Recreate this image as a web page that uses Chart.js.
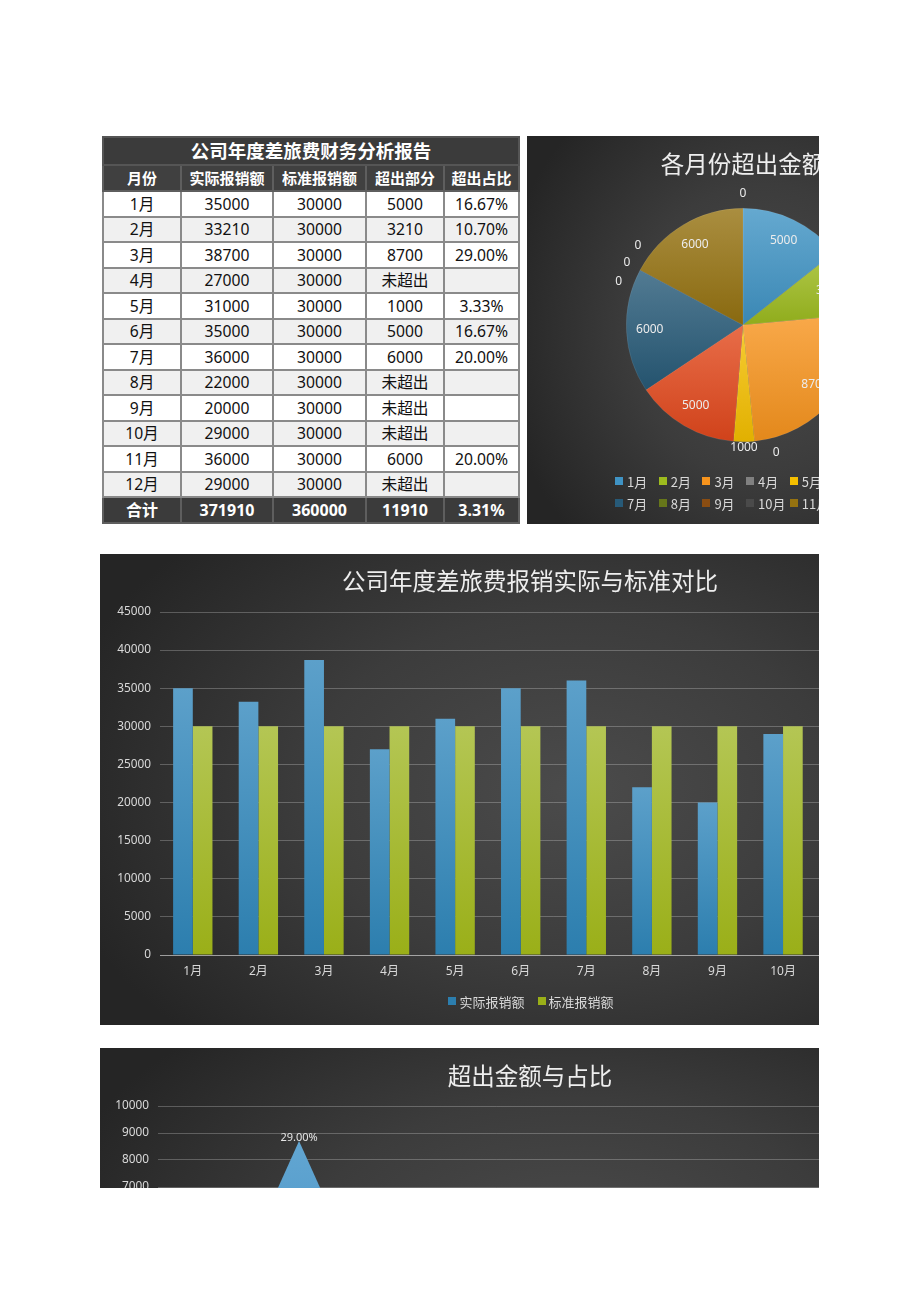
<!DOCTYPE html>
<html><head><meta charset="utf-8">
<script src="https://cdn.jsdelivr.net/npm/chart.js@4.4.0/dist/chart.umd.min.js"></script>
<style>
html,body{margin:0;padding:0;background:#fff;}
body{width:920px;height:1301px;position:relative;overflow:hidden;font-family:"Noto Sans","Noto Sans CJK SC",sans-serif;}
.panel{position:absolute;overflow:hidden;}
.inner{position:absolute;left:0;top:0;background:radial-gradient(ellipse 62% 75% at 55% 50%, #4b4b4b 0%, #3c3c3c 50%, #252525 100%);}
.ctitle{position:absolute;left:0;width:100%;text-align:center;color:#eeeeee;font-family:"Noto Sans CJK SC",sans-serif;font-size:23.5px;line-height:30px;white-space:nowrap;}
canvas{position:absolute;left:0;top:0;}
#tbl{position:absolute;left:102px;top:136px;width:416px;border-collapse:collapse;table-layout:fixed;font-family:"Noto Sans","Noto Sans CJK SC",sans-serif;}
#tbl td{border:2px solid #8a8a8a;text-align:center;padding:0;font-size:15.7px;color:#111;line-height:20px;overflow:hidden;white-space:nowrap;}
#tbl tr.t td{background:#3b3b3b;color:#fff;font-weight:bold;font-size:18.5px;border-color:#555;height:26px;}
#tbl tr.h td{background:#404040;color:#fff;font-weight:bold;font-size:15px;border-color:#5e5e5e;height:24px;}
#tbl tr.d td{height:23.5px;background:#fff;}
#tbl tr.d.alt td{background:#f0f0f0;}
#tbl tr.s td{background:#3b3b3b;color:#fff;font-weight:bold;font-size:16px;border-color:#5e5e5e;height:23.5px;}
.leg{position:absolute;color:#d9d9d9;font-size:13px;font-family:"Noto Sans CJK SC",sans-serif;}
.leg .it{display:flex;align-items:center;white-space:nowrap;height:22px;}
.leg .bx{width:8px;height:8px;margin-right:4px;flex:none;}
</style>
</head><body>

<table id="tbl"></table>

<div class="panel" style="left:527px;top:136px;width:292px;height:388px;">
  <div class="inner" style="width:432px;height:388px;">
    <canvas id="pie" width="432" height="388"></canvas>
    <div class="ctitle" id="pieTitle" style="top:12px;"></div>
    <div class="leg" id="pieLegend" style="left:88px;top:334px;display:grid;grid-template-columns:repeat(6,43.7px);"></div>
  </div>
</div>

<div class="panel" style="left:100px;top:554px;width:719px;height:471px;">
  <div class="inner" style="width:860px;height:471px;">
    <canvas id="bar" width="860" height="471"></canvas>
    <div class="ctitle" id="barTitle" style="top:11px;"></div>
    <div class="leg" id="barLegend" style="left:0;width:862px;top:436px;display:flex;justify-content:center;gap:13px;"></div>
  </div>
</div>

<div class="panel" style="left:100px;top:1048px;width:719px;height:140px;">
  <div class="inner" style="width:860px;height:400px;">
    <canvas id="combo" width="860" height="400"></canvas>
    <div class="ctitle" id="comboTitle" style="top:12px;"></div>
  </div>
</div>

<script>
// ---------------- data ----------------
const tableTitle = '公司年度差旅费财务分析报告';
const tableHeaders = ['月份', '实际报销额', '标准报销额', '超出部分', '超出占比'];
const months = ['1月','2月','3月','4月','5月','6月','7月','8月','9月','10月','11月','12月'];
const actualAmounts = [35000, 33210, 38700, 27000, 31000, 35000, 36000, 22000, 20000, 29000, 36000, 29000];
const standardAmounts = [30000, 30000, 30000, 30000, 30000, 30000, 30000, 30000, 30000, 30000, 30000, 30000];
const overAmounts = [5000, 3210, 8700, 0, 1000, 5000, 6000, 0, 0, 0, 6000, 0];
const overPercents = [16.67, 10.70, 29.00, null, 3.33, 16.67, 20.00, null, null, null, 20.00, null];
const notOverText = '未超出';
const totalRow = ['合计', '371910', '360000', '11910', '3.31%'];
const pieTitle = '各月份超出金额';
const barTitle = '公司年度差旅费报销实际与标准对比';
const comboTitle = '超出金额与占比';
const barSeriesNames = ['实际报销额', '标准报销额'];
const barAxis = {min: 0, max: 45000, step: 5000};
const comboAxis = {min: 0, max: 10000, step: 1000};
const pieColors = ['#3f93c4','#9dbb1e','#f7941d','#808080','#f5bf00','#e2481c','#275a78','#66761a','#8a4d12','#4a4a4a','#957210','#8a2c12'];
const barColors = [['#5ca0ca','#2c7eae'], ['#b4c654','#9aaf18']];
const comboColors = ['#62a6d2','#3f8cc0'];

// ---------------- helpers ----------------
function hexToRgb(h){h=h.replace('#','');return [parseInt(h.substr(0,2),16),parseInt(h.substr(2,2),16),parseInt(h.substr(4,2),16)];}
function mix(a,b,t){const x=hexToRgb(a),y=hexToRgb(b);return 'rgb('+x.map((v,i)=>Math.round(v+(y[i]-v)*t)).join(',')+')';}
const FONT = '"Noto Sans","Noto Sans CJK SC",sans-serif';
Chart.defaults.font.family = FONT;
Chart.defaults.color = '#d9d9d9';

// ---------------- table ----------------
(function(){
  const t = document.getElementById('tbl');
  const widths = [78, 92, 93, 78, 75];
  let html = '<colgroup>' + widths.map(w=>'<col style="width:'+w+'px">').join('') + '</colgroup>';
  html += '<tr class="t"><td colspan="5">' + tableTitle + '</td></tr>';
  html += '<tr class="h">' + tableHeaders.map(h=>'<td>'+h+'</td>').join('') + '</tr>';
  months.forEach((m,i)=>{
    const over = overAmounts[i] > 0 ? overAmounts[i] : notOverText;
    const pct = overPercents[i] == null ? '' : overPercents[i].toFixed(2) + '%';
    html += '<tr class="d' + (i%2 ? ' alt' : '') + '"><td>'+m+'</td><td>'+actualAmounts[i]+'</td><td>'+standardAmounts[i]+'</td><td>'+over+'</td><td>'+pct+'</td></tr>';
  });
  html += '<tr class="s">' + totalRow.map(v=>'<td>'+v+'</td>').join('') + '</tr>';
  t.innerHTML = html;
})();

document.getElementById('pieTitle').textContent = pieTitle;
document.getElementById('barTitle').textContent = barTitle;
document.getElementById('comboTitle').textContent = comboTitle;

// legends
(function(){
  const pl = document.getElementById('pieLegend');
  pl.innerHTML = months.map((m,i)=>'<div class="it"><span class="bx" style="background:'+pieColors[i]+'"></span>'+m+'</div>').join('');
  const bl = document.getElementById('barLegend');
  bl.innerHTML = barSeriesNames.map((n,i)=>'<div class="it"><span class="bx" style="background:'+barColors[i][1]+';margin-right:3px"></span>'+n+'</div>').join('');
})();

// ---------------- pie ----------------
function sliceGradient(ctx){
  const base = pieColors[ctx.dataIndex];
  const chart = ctx.chart, ca = chart.chartArea;
  if (!ca || ctx.type !== 'data') return base;
  const cx=(ca.left+ca.right)/2, cy=(ca.top+ca.bottom)/2, R=Math.min(ca.right-ca.left, ca.bottom-ca.top)/2;
  const data = ctx.dataset.data, total = data.reduce((a,b)=>a+b,0);
  let cum = 0; for (let i=0;i<ctx.dataIndex;i++) cum += data[i];
  const a0 = -Math.PI/2 + cum/total*Math.PI*2, a1 = a0 + data[ctx.dataIndex]/total*Math.PI*2;
  let ymin=cy, ymax=cy;
  for (let k=0;k<=60;k++){const a=a0+(a1-a0)*k/60;const y=cy+R*Math.sin(a);ymin=Math.min(ymin,y);ymax=Math.max(ymax,y);}
  if (ymax-ymin<1) ymax=ymin+1;
  const g = chart.ctx.createLinearGradient(0,ymin,0,ymax);
  g.addColorStop(0, mix(base,'#ffffff',0.2));
  g.addColorStop(1, mix(base,'#000000',0.08));
  return g;
}

const pieLabels = {
  id:'pieLabels',
  afterDatasetsDraw(chart){
    const ctx = chart.ctx, meta = chart.getDatasetMeta(0), data = chart.data.datasets[0].data;
    const total = data.reduce((a,b)=>a+b,0);
    ctx.save();
    ctx.font = '12px ' + FONT;
    ctx.fillStyle = '#ececec';
    ctx.textAlign = 'center'; ctx.textBaseline = 'middle';
    const placed = [];
    const box = (x,y,txt)=>{const w=ctx.measureText(txt).width;return {l:x-w/2-1,r:x+w/2+1,t:y-8,b:y+8};};
    const hit = (b)=>placed.some(p=>!(b.r<p.l||b.l>p.r||b.b<p.t||b.t>p.b));
    const pos = (el,ang,r)=>[el.x+Math.cos(ang)*r, el.y+Math.sin(ang)*r];
    const order = data.map((v,i)=>i).sort((a,b)=>(data[a]>0?0:1)-(data[b]>0?0:1));
    order.forEach(i=>{
      const el = meta.data[i], v = data[i], txt = String(v);
      const mid = (el.startAngle + el.endAngle)/2, R = el.outerRadius;
      let x,y;
      if (v > 0 && v/total >= 0.05){ [x,y] = pos(el, mid, R*0.8); }
      else if (v > 0){ [x,y] = pos(el, mid, R+6); }
      else {
        const r = R + 15, step = 9*Math.PI/180;
        const tries = [0,1,-1,2,-2,3,-3];
        for (const k of tries){ [x,y] = pos(el, mid + k*step, r); if (!hit(box(x,y,txt))) break; }
      }
      placed.push(box(x,y,txt));
      ctx.fillText(txt, x, y);
    });
    ctx.restore();
  }
};

new Chart(document.getElementById('pie'), {
  type:'pie',
  data:{ labels: months, datasets:[{ data: overAmounts, backgroundColor: sliceGradient, borderColor:'rgba(255,255,255,0.14)', borderWidth:0.6, hoverOffset:0 }]},
  options:{
    responsive:false, animation:false, devicePixelRatio:1,
    layout:{ padding:{ left:99, right:99, top:72, bottom:82 } },
    plugins:{ legend:{display:false}, title:{display:false}, tooltip:{enabled:false} }
  },
  plugins:[pieLabels]
});

// ---------------- bar ----------------
function barGradient(pair){
  return (ctx)=>{
    const c = ctx.chart, ys = c.scales && c.scales.y;
    if (!c.chartArea || !ys || ctx.type !== 'data') return pair[1];
    const v = ctx.parsed ? ctx.parsed.y : ctx.raw;
    const y0 = ys.getPixelForValue(v), y1 = ys.getPixelForValue(0);
    if (!isFinite(y0) || !isFinite(y1) || Math.abs(y1-y0)<1) return pair[1];
    const g = c.ctx.createLinearGradient(0,y0,0,y1);
    g.addColorStop(0, pair[0]); g.addColorStop(1, pair[1]);
    return g;
  };
}
const tickFont = {size:11.8, family:FONT};
const plainTick = v => String(v);
new Chart(document.getElementById('bar'), {
  type:'bar',
  data:{ labels: months, datasets:[
    { label: barSeriesNames[0], data: actualAmounts, backgroundColor: barGradient(barColors[0]), barPercentage:1, categoryPercentage:0.6 },
    { label: barSeriesNames[1], data: standardAmounts, backgroundColor: barGradient(barColors[1]), barPercentage:1, categoryPercentage:0.6 }
  ]},
  options:{
    responsive:false, animation:false, devicePixelRatio:1,
    layout:{ padding:{ left:0, right:13, top:58, bottom:40 } },
    plugins:{ legend:{display:false}, title:{display:false}, tooltip:{enabled:false} },
    scales:{
      x:{ grid:{display:false, drawTicks:false}, border:{color:'rgba(255,255,255,0.4)', width:1},
          ticks:{ color:'#d9d9d9', font:{size:12, family:FONT}, padding:9, maxRotation:0, autoSkip:false },
          afterFit(s){ s.height = 30; } },
      y:{ min:barAxis.min, max:barAxis.max, grid:{ color:'rgba(255,255,255,0.24)', drawTicks:false, lineWidth:1 }, border:{display:false},
          ticks:{ stepSize:barAxis.step, color:'#d9d9d9', font:tickFont, padding:9, callback: plainTick },
          afterFit(s){ s.width = 60; } }
    }
  }
});

// ---------------- combo (mountain) ----------------
const mountains = {
  id:'mountains',
  afterDatasetsDraw(chart){
    const ctx = chart.ctx, ca = chart.chartArea, meta = chart.getDatasetMeta(0);
    ctx.save();
    ctx.beginPath(); ctx.rect(ca.left, ca.top-20, ca.right-ca.left, ca.bottom-ca.top+20); ctx.clip();
    meta.data.forEach((el,i)=>{
      if (!(overAmounts[i] > 0)) return;
      const half = el.width/2;
      const g = ctx.createLinearGradient(0, el.y, 0, el.base);
      g.addColorStop(0, comboColors[0]); g.addColorStop(1, comboColors[1]);
      ctx.fillStyle = g;
      ctx.beginPath(); ctx.moveTo(el.x-half, el.base); ctx.lineTo(el.x, el.y); ctx.lineTo(el.x+half, el.base); ctx.closePath(); ctx.fill();
    });
    ctx.font = '11px ' + FONT; ctx.fillStyle = '#e6e6e6'; ctx.textAlign='center'; ctx.textBaseline='middle';
    meta.data.forEach((el,i)=>{
      if (overPercents[i] == null) return;
      ctx.fillText(overPercents[i].toFixed(2)+'%', el.x, el.y - 3);
    });
    ctx.restore();
  }
};
new Chart(document.getElementById('combo'), {
  type:'bar',
  data:{ labels: months, datasets:[
    { label:'超出部分', data: overAmounts, backgroundColor:'rgba(0,0,0,0)', barPercentage:3.74, categoryPercentage:1 }
  ]},
  options:{
    responsive:false, animation:false, devicePixelRatio:1,
    layout:{ padding:{ left:0, right:125, top:58, bottom:42 } },
    plugins:{ legend:{display:false}, title:{display:false}, tooltip:{enabled:false} },
    scales:{
      x:{ grid:{display:false, drawTicks:false}, border:{color:'rgba(255,255,255,0.4)'},
          ticks:{ color:'#d9d9d9', font:{size:12, family:FONT}, padding:9, maxRotation:0, autoSkip:false },
          afterFit(s){ s.height = 30; } },
      y:{ min:comboAxis.min, max:comboAxis.max, grid:{ color:'rgba(255,255,255,0.24)', drawTicks:false }, border:{display:false},
          ticks:{ stepSize:comboAxis.step, color:'#d9d9d9', font:tickFont, padding:9, callback: plainTick },
          afterFit(s){ s.width = 58; } }
    }
  },
  plugins:[mountains]
});
</script>
</body></html>
